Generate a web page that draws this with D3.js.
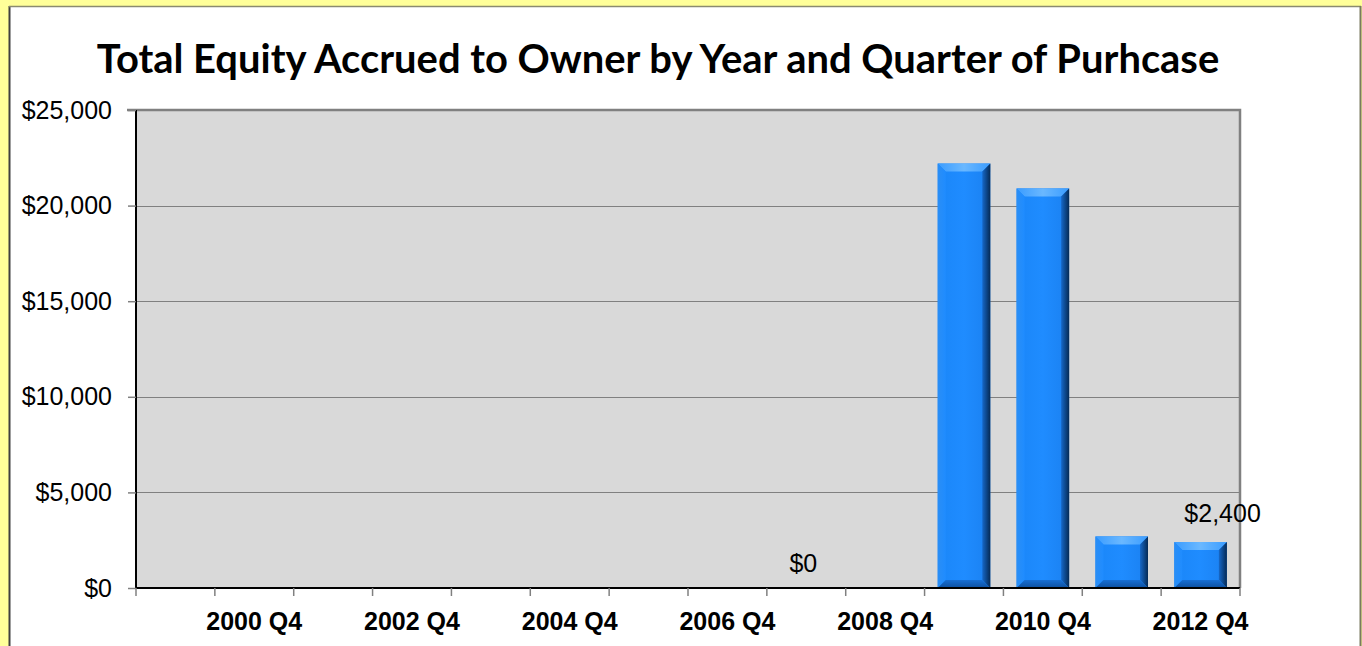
<!DOCTYPE html>
<html>
<head>
<meta charset="utf-8">
<script src="https://cdn.jsdelivr.net/npm/d3@7"></script>
<style>
  html, body { margin: 0; padding: 0; background: #ffff99; }
  svg { display: block; }
</style>
</head>
<body>
<svg id="chart" width="1362" height="646"></svg>
<script>
// ---- data ----
const categories = ["1999 Q4","2000 Q4","2001 Q4","2002 Q4","2003 Q4","2004 Q4","2005 Q4",
                    "2006 Q4","2007 Q4","2008 Q4","2009 Q4","2010 Q4","2011 Q4","2012 Q4"];
const values = [0,0,0,0,0,0,0,0,0,0,22200,20900,2700,2400];
const shownLabels = ["2000 Q4","2002 Q4","2004 Q4","2006 Q4","2008 Q4","2010 Q4","2012 Q4"];
const yTicks = [0,5000,10000,15000,20000,25000];
const labelledPoints = ["2007 Q4","2012 Q4"];
const titleText = "Total Equity Accrued to Owner by Year and Quarter of Purhcase";

// ---- layout ----
const W = 1362, H = 646;
const plot = {left: 136, right: 1240, top: 110, bottom: 588};
const svg = d3.select("#chart");
const defs = svg.append("defs");

// frame
svg.append("rect").attr("x", 0).attr("y", 0).attr("width", W).attr("height", H).attr("fill", "#ffff99");
svg.append("rect").attr("x", 9).attr("y", 6).attr("width", 1351).attr("height", H + 10)
  .attr("fill", "#ffffff");
svg.append("line").attr("x1", 9.5).attr("x2", 9.5).attr("y1", 6).attr("y2", H).attr("stroke", "#404040").attr("stroke-width", 2);
svg.append("line").attr("x1", 9).attr("x2", 1361).attr("y1", 6.5).attr("y2", 6.5).attr("stroke", "#8a8a70").attr("stroke-width", 1.5);
svg.append("line").attr("x1", 1360.5).attr("x2", 1360.5).attr("y1", 6).attr("y2", H).attr("stroke", "#7a7a60").attr("stroke-width", 2);

// scales
const x = d3.scaleBand().domain(categories).range([plot.left, plot.right]).paddingInner(0).paddingOuter(0);
const y = d3.scaleLinear().domain([0, 25000]).range([plot.bottom, plot.top]);

// plot area
svg.append("rect").attr("x", plot.left).attr("y", plot.top)
  .attr("width", plot.right - plot.left).attr("height", plot.bottom - plot.top)
  .attr("fill", "#d9d9d9");

// gridlines
svg.append("g").selectAll("line").data(yTicks.filter(d => d > 0 && d < 25000)).join("line")
  .attr("x1", plot.left).attr("x2", plot.right)
  .attr("y1", d => Math.round(y(d)) + 0.5).attr("y2", d => Math.round(y(d)) + 0.5)
  .attr("stroke", "#808080").attr("stroke-width", 1);

// plot border top/right
svg.append("path")
  .attr("d", `M${plot.left - 9},${plot.top} H${plot.right} V${plot.bottom}`)
  .attr("fill", "none").attr("stroke", "#808080").attr("stroke-width", 2.5);

// gradients for bars
function grad(id, x1, y1, x2, y2, stops) {
  const g = defs.append("linearGradient").attr("id", id)
    .attr("x1", x1).attr("y1", y1).attr("x2", x2).attr("y2", y2);
  stops.forEach(s => g.append("stop").attr("offset", s[0]).attr("stop-color", s[1]));
}
grad("gFace", 0, 0, 1, 0, [[0, "#1a86f8"], [0.5, "#1f8cff"], [1, "#1a80f0"]]);
grad("gTop", 0, 0, 1, 0, [[0, "#3a9cff"], [0.5, "#6ab8ff"], [1, "#3a9cff"]]);
grad("gLeft", 0, 0, 1, 0, [[0, "#2a8ef5"], [1, "#1f8cff"]]);
grad("gRight", 0, 0, 1, 0, [[0, "#1668c8"], [1, "#052a55"]]);
grad("gBottom", 0, 0, 0, 1, [[0, "#176fd4"], [1, "#0d4f9e"]]);

// bars
const barW = x.bandwidth() * 2 / 3;
const bars = svg.append("g").selectAll("g").data(categories.map((c, i) => ({c, v: values[i]})).filter(d => d.v > 0)).join("g");
bars.each(function(d) {
  const g = d3.select(this);
  const x0 = x(d.c) + (x.bandwidth() - barW) / 2, x1 = x0 + barW;
  const y0 = y(d.v), y1 = y(0);
  const b = Math.min(8, (y1 - y0) / 2);
  g.append("rect").attr("x", x0).attr("y", y0).attr("width", barW).attr("height", y1 - y0).attr("fill", "url(#gFace)");
  g.append("polygon").attr("points", [[x0, y0], [x1, y0], [x1 - b, y0 + b], [x0 + b, y0 + b]].join(" ")).attr("fill", "url(#gTop)");
  g.append("polygon").attr("points", [[x0, y0], [x0 + b, y0 + b], [x0 + b, y1 - b], [x0, y1]].join(" ")).attr("fill", "url(#gLeft)");
  g.append("polygon").attr("points", [[x1, y0], [x1, y1], [x1 - b, y1 - b], [x1 - b, y0 + b]].join(" ")).attr("fill", "url(#gRight)");
  g.append("polygon").attr("points", [[x0, y1], [x0 + b, y1 - b], [x1 - b, y1 - b], [x1, y1]].join(" ")).attr("fill", "url(#gBottom)");
});

// axes
const fmt = d => "$" + d3.format(",")(d);
const yAxis = svg.append("g").attr("transform", `translate(${plot.left},0)`)
  .call(d3.axisLeft(y).tickValues(yTicks).tickFormat(fmt).tickSize(8).tickPadding(16));
yAxis.select(".domain").attr("stroke", "#000").attr("stroke-width", 2).attr("d", `M0,${plot.top}V${plot.bottom}`);
yAxis.selectAll(".tick line").attr("stroke", "#808080").attr("stroke-width", 1.5);
yAxis.selectAll("text").attr("font-family", "Liberation Sans, Arial, sans-serif").attr("font-size", 25)
  .attr("fill", "#000");

const xAxisG = svg.append("g").attr("transform", `translate(0,${plot.bottom})`);
xAxisG.append("line").attr("x1", plot.left).attr("x2", plot.right).attr("y1", 0).attr("y2", 0)
  .attr("stroke", "#000").attr("stroke-width", 2);
const boundaries = categories.map(c => x(c)).concat([plot.right]);
xAxisG.selectAll("line.tk").data(boundaries).join("line").attr("class", "tk")
  .attr("x1", d => d).attr("x2", d => d).attr("y1", 0).attr("y2", 8)
  .attr("stroke", "#808080").attr("stroke-width", 1.5);
xAxisG.selectAll("text").data(shownLabels).join("text")
  .attr("x", d => x(d) + x.bandwidth() / 2).attr("y", 42)
  .attr("text-anchor", "middle")
  .attr("font-family", "Liberation Sans, Arial, sans-serif").attr("font-weight", "bold").attr("font-size", 25)
  .text(d => d);

// data labels
const dl = svg.append("g");
labelledPoints.forEach(c => {
  const i = categories.indexOf(c);
  const v = values[i];
  const t = dl.append("text")
    .attr("x", x(c) + x.bandwidth() / 2 + (v > 0 ? 22 : -3))
    .attr("y", y(v) - (v > 0 ? 20 : 16))
    .attr("text-anchor", "middle")
    .attr("font-family", "Liberation Sans, Arial, sans-serif").attr("font-size", 25)
    .attr("fill", "#000")
    .text(fmt(v));
});

// title
const title = svg.append("text").attr("x", 658).attr("y", 73).attr("text-anchor", "middle")
  .attr("font-family", "Lato, 'Open Sans', sans-serif").attr("font-weight", "bold").attr("font-size", 36)
  .attr("fill", "#000").text(titleText);
const tw = title.node().getComputedTextLength();
title.attr("font-size", 36 * 1123 / tw);
</script>
</body>
</html>
